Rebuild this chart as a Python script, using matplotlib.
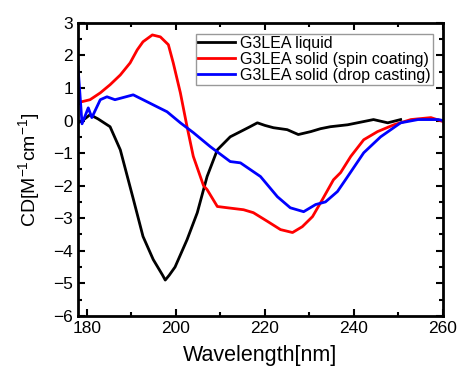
import matplotlib.pyplot as plt
from matplotlib.ticker import MultipleLocator

plt.rcParams['font.family'] = ['Liberation Sans', 'DejaVu Sans']
plt.rcParams['mathtext.default'] = 'regular'

# G3LEA liquid
wl_liquid = [178, 179.5, 180.7, 182.5, 185.2, 187.5, 190.4, 192.6, 194.9, 197.0, 197.6,
             198.5, 199.8, 202.5, 204.8, 207.0, 209.3, 212.2, 214.5, 216.5, 218.3,
             220.0, 221.9, 225.0, 227.5, 230.3, 232.5, 234.7, 238.6, 241.5, 244.4,
             247.6, 250.5]
cd_liquid = [-0.07, 0.05, 0.18, 0.05, -0.19, -0.9, -2.4, -3.56, -4.27, -4.75, -4.9,
             -4.75, -4.5, -3.66, -2.83, -1.72, -0.9, -0.5, -0.34, -0.2, -0.07,
             -0.15, -0.22, -0.28, -0.43, -0.34, -0.25, -0.19, -0.13, -0.05, 0.03,
             -0.07, 0.03]

# G3LEA solid (spin coating)
wl_spin = [178, 180.7, 183, 185.2, 187.5, 189.7, 191.3, 192.6, 194.7, 196.5, 198.3,
           199.4, 201, 202.5, 203.9, 206.2, 207.0, 209.3, 211.6, 215.2, 217.4,
           220.6, 223.5, 226.2, 228.4, 230.7, 232.9, 235.4, 237, 239.3, 242.2,
           245.3, 249, 252.8, 257.3, 260]
cd_spin = [0.55, 0.64, 0.85, 1.1, 1.4, 1.77, 2.17, 2.42, 2.63, 2.57, 2.33,
           1.77, 0.85, -0.19, -1.1, -2.0, -2.12, -2.64, -2.68, -2.74, -2.83,
           -3.1, -3.35, -3.44, -3.26, -2.95, -2.43, -1.82, -1.6, -1.1, -0.59,
           -0.34, -0.13, 0.03, 0.09, -0.03]

# G3LEA solid (drop casting)
wl_drop = [178, 178.9, 180.3, 181.1, 183, 184.5, 186.3, 188.5, 190.4, 192.6, 195.8,
           198, 201, 203.9, 207.7, 212.2, 214.5, 219, 222.8, 225.7, 228.7,
           231.4, 233.6, 236.3, 238.1, 242.2, 246, 250.5, 254.4, 259, 260]
cd_drop = [1.65, -0.1, 0.39, 0.09, 0.64, 0.73, 0.64, 0.72, 0.79, 0.64, 0.42,
           0.27, -0.07, -0.37, -0.8, -1.26, -1.3, -1.72, -2.34, -2.68, -2.8,
           -2.58, -2.5, -2.18, -1.82, -0.99, -0.5, -0.07, 0.03, 0.03, 0.0]

fig = plt.figure(figsize=(4.59, 3.69), dpi=100)
ax = fig.add_axes([0.170, 0.144, 0.795, 0.794])

ax.plot(wl_liquid, cd_liquid, color='black', lw=2, label='G3LEA liquid')
ax.plot(wl_spin, cd_spin, color='red', lw=2, label='G3LEA solid (spin coating)')
ax.plot(wl_drop, cd_drop, color='blue', lw=2, label='G3LEA solid (drop casting)')

ax.set_xlim(178, 260)
ax.set_ylim(-6, 3)
ax.xaxis.set_major_locator(MultipleLocator(20))
ax.xaxis.set_minor_locator(MultipleLocator(10))
ax.yaxis.set_major_locator(MultipleLocator(1))
ax.yaxis.set_minor_locator(MultipleLocator(0.5))
ax.tick_params(which='both', direction='in', top=True, right=True, width=1.5, labelsize=12.5)
ax.tick_params(which='major', length=5)
ax.tick_params(which='minor', length=3)
for s in ax.spines.values():
    s.set_linewidth(2)

ax.set_xlabel('Wavelength[nm]', fontsize=15.5, labelpad=7)
ax.set_ylabel('CD[M$^{-1}$cm$^{-1}$]', fontsize=14, labelpad=8)

leg = ax.legend(loc='upper right', fontsize=11.5, handlelength=2.3, handletextpad=0.3,
                borderpad=0.15, labelspacing=0.05, fancybox=False, edgecolor='gray',
                borderaxespad=0.4, bbox_to_anchor=(0.99, 0.985))
leg.get_frame().set_linewidth(1)

fig.savefig('out.png', dpi=100)
